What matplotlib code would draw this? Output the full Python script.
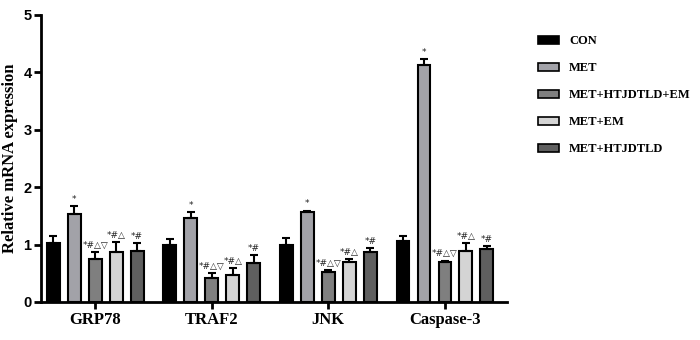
import matplotlib
matplotlib.use("Agg")
import matplotlib.pyplot as plt
from matplotlib.patches import Patch
import numpy as np

categories = ["GRP78", "TRAF2", "JNK", "Caspase-3"]
groups = ["CON", "MET", "MET+HTJDTLD+EM", "MET+EM", "MET+HTJDTLD"]
means = {
    "CON":            [1.02, 1.00, 0.99, 1.06],
    "MET":            [1.53, 1.46, 1.57, 4.12],
    "MET+HTJDTLD+EM": [0.75, 0.42, 0.53, 0.70],
    "MET+EM":         [0.87, 0.47, 0.69, 0.88],
    "MET+HTJDTLD":    [0.89, 0.67, 0.87, 0.93],
}
errors = {
    "CON":            [0.13, 0.09, 0.12, 0.08],
    "MET":            [0.14, 0.10, 0.02, 0.11],
    "MET+HTJDTLD+EM": [0.12, 0.08, 0.03, 0.02],
    "MET+EM":         [0.17, 0.12, 0.06, 0.14],
    "MET+HTJDTLD":    [0.13, 0.15, 0.07, 0.04],
}
marks = {
    "CON":            ["", "", "", ""],
    "MET":            ["*", "*", "*", "*"],
    "MET+HTJDTLD+EM": ["*#△▽", "*#△▽", "*#△▽", "*#△▽"],
    "MET+EM":         ["*#△", "*#△", "*#△", "*#△"],
    "MET+HTJDTLD":    ["*#", "*#", "*#", "*#"],
}
colors = ["#000000", "#a2a2a8", "#7f7f7f", "#d4d4d4", "#5f5f5f"]

fig = plt.figure(figsize=(7.0, 3.4), dpi=100)
ax = fig.add_axes([0.059, 0.112, 0.665, 0.844])

x = np.arange(len(categories))
step = 0.18
width = 0.11
for i, g in enumerate(groups):
    pos = x + (i - 2) * step
    ax.bar(pos, means[g], width=width, color=colors[i], edgecolor="black",
           linewidth=1.5, zorder=2)
    ax.errorbar(pos, means[g], yerr=[np.zeros(len(categories)), errors[g]],
                fmt="none", ecolor="black", elinewidth=1.5, capsize=3,
                capthick=1.5, zorder=3)
    for p, m, e, t in zip(pos, means[g], errors[g], marks[g]):
        if t:
            ax.text(p, m + e + 0.04, t, ha="center", va="bottom",
                    fontsize=6.5, family=["DejaVu Sans"], color="#222222")

ax.set_xlim(-0.463, 3.531)
ax.set_ylim(0, 5)
ax.set_yticks([0, 1, 2, 3, 4, 5])
ax.set_xticks(x)
ax.set_xticklabels(categories, family="Liberation Serif", fontweight="bold",
                   fontsize=12)
for lab in ax.get_yticklabels():
    lab.set_family("Liberation Sans")
    lab.set_fontweight("bold")
    lab.set_fontsize(10.5)
ax.set_ylabel("Relative mRNA expression", family="Liberation Serif",
              fontweight="bold", fontsize=12, labelpad=4)
ax.spines["top"].set_visible(False)
ax.spines["right"].set_visible(False)
ax.spines["left"].set_linewidth(2)
ax.spines["bottom"].set_linewidth(2)
ax.tick_params(axis="both", width=2, length=5, direction="out", pad=2)

handles = [Patch(facecolor=c, edgecolor="black", linewidth=1.2) for c in colors]
leg = fig.legend(handles, groups, loc="upper left", bbox_to_anchor=(0.753, 0.93),
                 frameon=False, handlelength=1.65, handleheight=0.6,
                 labelspacing=1.2, handletextpad=0.8,
                 prop={"family": "Liberation Serif", "weight": "bold", "size": 9})

fig.savefig("out.png", dpi=100)
